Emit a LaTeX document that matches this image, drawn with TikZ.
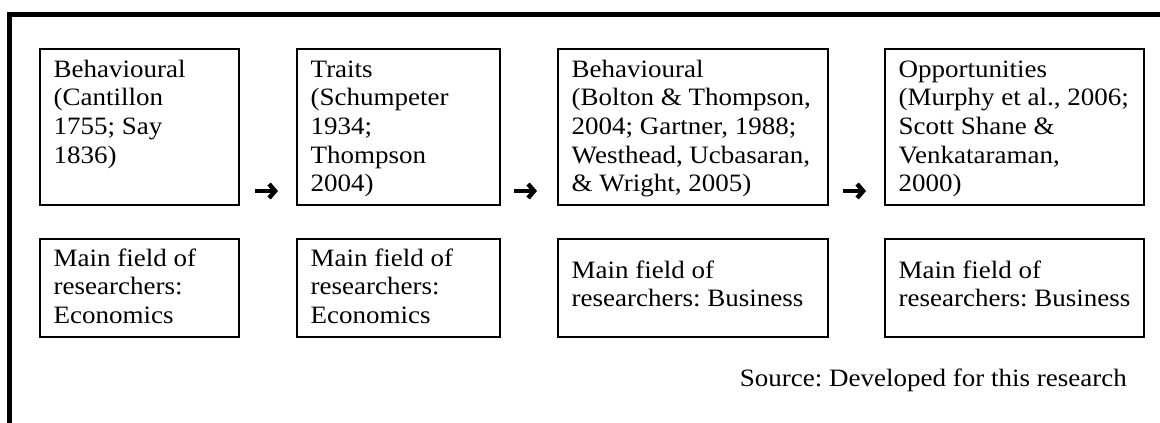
\documentclass[tikz,border=0pt]{standalone}
\usepackage{fontspec}
\setmainfont[FakeStretch=1.08]{Liberation Serif}
\usetikzlibrary{arrows.meta}
\newcommand\txtlines[1]{\begin{tabular}[t]{@{}l@{}}#1\end{tabular}}
\frenchspacing
\begin{document}
\begin{tikzpicture}[x=1pt,y=-1pt,
  font=\fontsize{25}{28.7}\selectfont,
  frame/.style={line width=5pt,line join=miter},
  panel/.style={draw,line width=1.8pt,inner sep=0pt,anchor=north west},
  label/.style={inner sep=0pt,anchor=base west},
  flow/.style={line width=4.4pt,-{Straight Barb[length=6pt,width=14pt]}}]
\useasboundingbox (0,0) rectangle (1160,423);
% outer frame: left and top edges only
\draw[frame] (9.5,423) -- (9.5,14) -- (1160,14);
% upper row: approaches with references
\node[panel,minimum width=199pt,minimum height=156pt] (b1) at (39,48) {};
\node[panel,minimum width=203pt,minimum height=156pt] (b2) at (296,48) {};
\node[panel,minimum width=270pt,minimum height=156pt] (b3) at (557,48) {};
\node[panel,minimum width=259pt,minimum height=156pt] (b4) at (884,48) {};
% lower row: field of the researchers
\node[panel,minimum width=199pt,minimum height=98pt] (f1) at (39,238) {};
\node[panel,minimum width=203pt,minimum height=98pt] (f2) at (296,238) {};
\node[panel,minimum width=270pt,minimum height=98pt] (f3) at (557,238) {};
\node[panel,minimum width=259pt,minimum height=98pt] (f4) at (884,238) {};
% texts
\node[label] (t1) at ([shift={(14.5,29)}]b1.north west) {\txtlines{Behavioural\\(Cantillon\\1755; Say\\1836)}};
\node[label] (t2) at ([shift={(14.5,29)}]b2.north west) {\txtlines{Traits\\(Schumpeter\\1934;\\Thompson\\2004)}};
\node[label] (t3) at ([shift={(14.5,29)}]b3.north west) {\txtlines{Behavioural\\(Bolton \& Thompson,\\2004; Gartner, 1988;\\Westhead, Ucbasaran,\\\& Wright, 2005)}};
\node[label] (t4) at ([shift={(14.5,29)}]b4.north west) {\txtlines{Opportunities\\(Murphy et al., 2006;\\Scott Shane \&\\Venkataraman,\\2000)}};
\node[label] (u1) at ([shift={(14.5,28)}]f1.north west) {\txtlines{Main field of\\researchers:\\Economics}};
\node[label] (u2) at ([shift={(14.5,28)}]f2.north west) {\txtlines{Main field of\\researchers:\\Economics}};
\node[label] (u3) at ([shift={(14.5,40)}]f3.north west) {\txtlines{Main field of\\researchers: Business}};
\node[label] (u4) at ([shift={(14.5,40)}]f4.north west) {\txtlines{Main field of\\researchers: Business}};
\node[inner sep=0pt,anchor=base east] (src) at (1127,386) {Source: Developed for this research};
% arrows between the upper panels
\coordinate (a1s) at (255,191); \coordinate (a1e) at (278,191);
\coordinate (a2s) at (514,191); \coordinate (a2e) at (537,191);
\coordinate (a3s) at (843,191); \coordinate (a3e) at (866,191);
\draw[flow] (a1s) -- (a1e);
\draw[flow] (a2s) -- (a2e);
\draw[flow] (a3s) -- (a3e);
\end{tikzpicture}
\end{document}
